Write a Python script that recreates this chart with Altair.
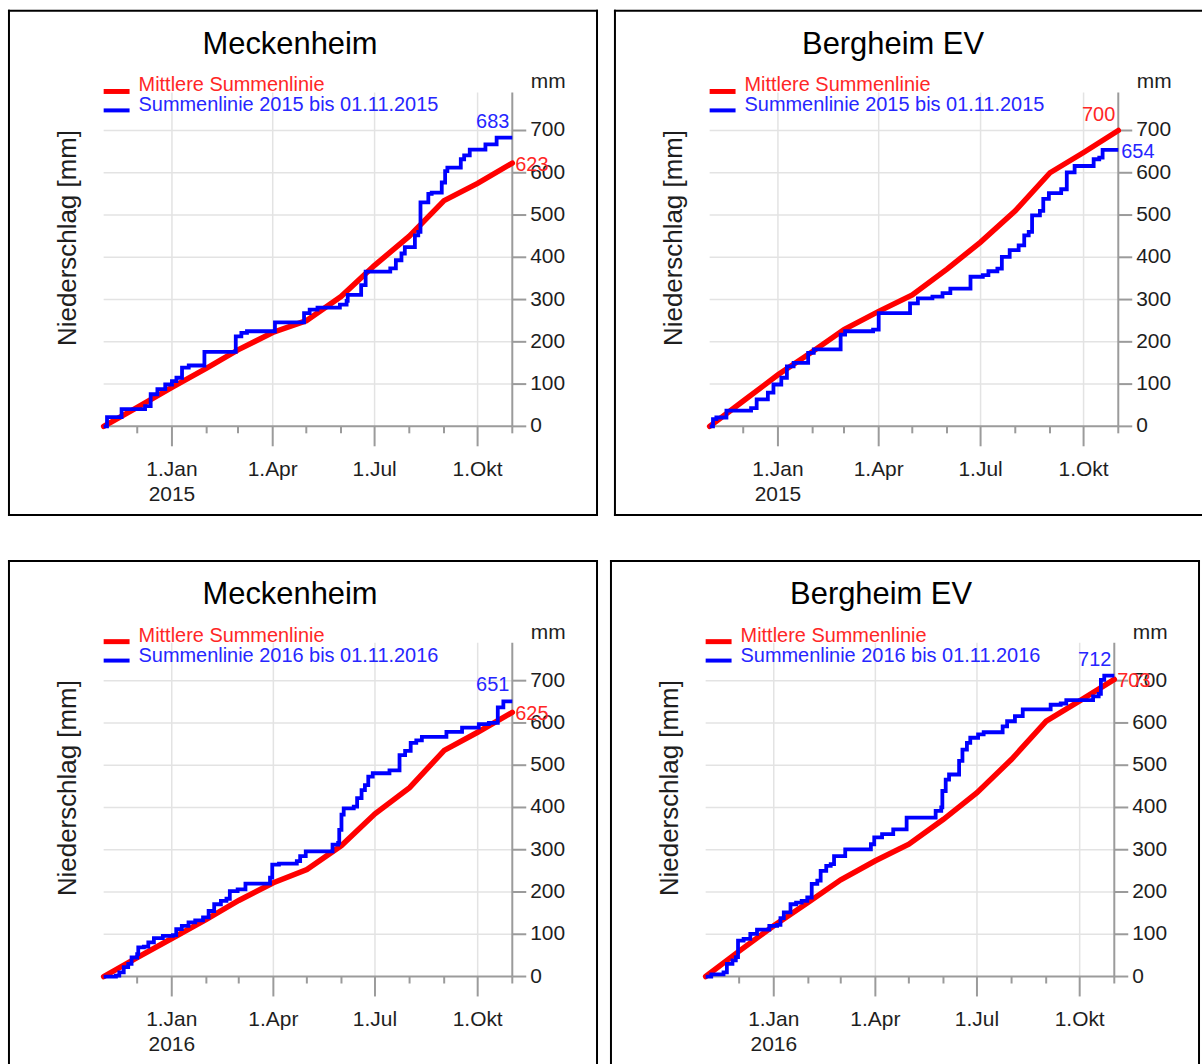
import altair as alt
import pandas as pd

FONT = "Liberation Sans"
RED = "#ff0000"
BLUE = "#0000ff"
RED_TXT = "#ff2626"
BLUE_TXT = "#2626ff"
AXIS_GREY = "#9b9b9b"
GRID_GREY = "#e3e3e3"
LABEL_INK = "#1e1e1e"

# ---- text ---------------------------------------------------------------
stations = ["Meckenheim", "Bergheim EV", "Meckenheim", "Bergheim EV"]
years = [2015, 2015, 2016, 2016]
legend_mean = "Mittlere Summenlinie"
y_title = "Niederschlag [mm]"
y_unit = "mm"

# ---- long-term mean running total (mm) on the 1st of each month, 1 Nov .. 1 Nov
mean_mk_2015 = [0, 45, 92, 138, 181, 222, 250, 307, 381, 450, 534, 575, 623]
mean_bgh_2015 = [0, 60, 122, 177, 229, 272, 311, 372, 436, 510, 600, 648, 700]
mean_mk_2016 = [0, 45, 90, 135, 180, 222, 253, 310, 385, 447, 535, 578, 625]
mean_bgh_2016 = [0, 60, 120, 176, 229, 274, 313, 372, 435, 514, 604, 652, 703]

# ---- running total of the year: days since 1 Nov, total (mm) from that day on
mk_2015_day = [0, 3, 16, 37, 42, 48, 55, 61, 65, 70, 76, 90, 118, 123, 128, 153, 179, 184, 191, 211,
               217, 218, 230, 234, 256, 261, 266, 269, 278, 281, 283, 290, 293, 302, 305, 307, 319, 322,
               327, 341, 351, 365]
mk_2015_mm = [0, 22, 41, 48, 76, 88, 99, 107, 115, 139, 144, 176, 213, 221, 225, 246, 268, 276, 281, 288,
              297, 311, 334, 366, 374, 393, 409, 424, 452, 460, 530, 550, 553, 577, 604, 612, 632, 641,
              655, 667, 683, 683]

bgh_2015_day = [0, 3, 6, 15, 37, 42, 52, 57, 64, 69, 75, 88, 93, 117, 121, 146, 151, 179, 186, 199,
                208, 215, 233, 244, 249, 257, 261, 268, 276, 281, 285, 288, 295, 298, 303, 314, 319, 326,
                343, 348, 351, 365]
bgh_2015_mm = [0, 17, 21, 37, 43, 64, 80, 99, 115, 142, 150, 174, 182, 217, 225, 229, 268, 291, 303, 307,
               315, 326, 354, 358, 367, 373, 401, 417, 428, 452, 460, 499, 510, 538, 552, 561, 601, 616,
               632, 636, 654, 654]

mk_2016_day = [0, 11, 14, 18, 22, 25, 30, 31, 36, 40, 45, 53, 62, 65, 70, 76, 82, 89, 94, 99, 105, 110,
               113, 120, 127, 149, 151, 157, 173, 176, 181, 205, 210, 211, 213, 215, 224, 227, 231, 234,
               237, 241, 256, 265, 270, 275, 280, 285, 307, 321, 336, 345, 353, 358, 366]
mk_2016_mm = [0, 2, 10, 22, 30, 45, 53, 69, 71, 81, 91, 96, 98, 112, 120, 128, 133, 140, 155, 171, 179, 184,
              202, 206, 220, 234, 265, 267, 273, 285, 296, 312, 316, 347, 383, 398, 402, 422, 441, 453,
              473, 481, 488, 524, 534, 553, 559, 567, 579, 589, 597, 600, 637, 651, 651]

bgh_2016_day = [0, 5, 16, 19, 24, 27, 29, 34, 40, 46, 57, 64, 67, 70, 76, 81, 86, 91, 95, 100, 103, 108,
                112, 115, 125, 148, 151, 158, 168, 180, 206, 211, 212, 215, 218, 227, 230, 234, 237, 244,
                249, 266, 270, 277, 284, 309, 318, 323, 347, 352, 354, 357, 366]
bgh_2016_mm = [0, 5, 10, 30, 38, 46, 85, 89, 101, 111, 120, 122, 138, 152, 171, 175, 179, 187, 219, 227,
               250, 262, 266, 285, 301, 313, 329, 337, 348, 376, 392, 400, 439, 466, 478, 510, 537, 553,
               565, 573, 578, 592, 604, 616, 632, 643, 646, 654, 663, 669, 702, 712, 712]

# ---- axes ---------------------------------------------------------------
y_ticks = [0, 100, 200, 300, 400, 500, 600, 700]
y_top = 790
major_month_labels = {1: "1.Jan", 4: "1.Apr", 7: "1.Jul", 10: "1.Okt"}

# pixel frame of the plotting area inside each boxed panel
X_PX = [96, 506]
Y_PX = [418, 83]


def iso(ts):
    return ts.strftime("%Y-%m-%d")


def dt(ts):
    return alt.DateTime(year=ts.year, month=ts.month, date=ts.day, utc=True)


def text_layer(text, x, y, size, color="black", align="left", angle=0):
    return alt.Chart(pd.DataFrame({"t": [text]})).mark_text(
        x=x, y=y, fontSize=size, font=FONT, color=color, align=align,
        baseline="alphabetic", angle=angle,
    ).encode(text="t:N")


def rule_layer(color, width, **enc):
    return alt.Chart(pd.DataFrame({"k": [0]})).mark_rule(
        color=color, strokeWidth=width
    ).encode(**enc)


def panel_chart(station, year, mean_mm, run_day, run_mm, mean_above, title_x, width, height, edges):
    start = pd.Timestamp(year - 1, 11, 1)
    months = [start + pd.DateOffset(months=i) for i in range(13)]
    mean_df = pd.DataFrame({"date": [iso(m) for m in months], "mm": mean_mm})
    run_df = pd.DataFrame({
        "date": [iso(start + pd.Timedelta(days=d)) for d in run_day],
        "mm": run_mm,
    })

    xs = alt.Scale(type="utc", domain=[dt(months[0]), dt(months[-1])], range=X_PX)
    ys = alt.Scale(domain=[0, y_top], range=Y_PX, nice=False, zero=False)

    def X(field):
        return alt.X(field, scale=xs, axis=None)

    def Y(field):
        return alt.Y(field, scale=ys, axis=None)

    # grid lines
    hgrid_df = pd.DataFrame({"mm": y_ticks[1:], "x0": iso(months[0]), "x1": iso(months[-1])})
    hgrid = alt.Chart(hgrid_df).mark_rule(color=GRID_GREY, strokeWidth=1.5).encode(
        x=X("x0:T"), x2="x1:T", y=Y("mm:Q"))
    major_dates = [m for m in months[1:] if m.month in major_month_labels]
    minor_dates = [m for m in months[1:] if m.month not in major_month_labels]
    vgrid_df = pd.DataFrame({"date": [iso(m) for m in major_dates], "lo": 0, "hi": y_top})
    vgrid = alt.Chart(vgrid_df).mark_rule(color=GRID_GREY, strokeWidth=1.5).encode(
        x=X("date:T"), y=Y("lo:Q"), y2="hi:Q")

    # axis lines, ticks and tick labels
    x_domain = alt.Chart(pd.DataFrame({"x0": [iso(months[0])], "x1": [iso(months[-1])], "mm": [0]})
                         ).mark_rule(color=AXIS_GREY, strokeWidth=2).encode(
        x=X("x0:T"), x2="x1:T", y=Y("mm:Q"))
    y_domain = alt.Chart(pd.DataFrame({"date": [iso(months[-1])], "lo": [0], "hi": [y_top]})
                         ).mark_rule(color=AXIS_GREY, strokeWidth=2).encode(
        x=X("date:T"), y=Y("lo:Q"), y2="hi:Q")
    major_ticks = alt.Chart(pd.DataFrame({"date": [iso(m) for m in major_dates]})).mark_rule(
        color=AXIS_GREY, strokeWidth=2).encode(
        x=X("date:T"), y=alt.value(Y_PX[0]), y2=alt.value(Y_PX[0] + 20))
    minor_ticks = alt.Chart(pd.DataFrame({"date": [iso(m) for m in minor_dates]})).mark_rule(
        color=AXIS_GREY, strokeWidth=2).encode(
        x=X("date:T"), y=alt.value(Y_PX[0]), y2=alt.value(Y_PX[0] + 7))
    y_tick_marks = alt.Chart(pd.DataFrame({"mm": y_ticks})).mark_rule(
        color=AXIS_GREY, strokeWidth=2).encode(
        y=Y("mm:Q"), x=alt.value(X_PX[1]), x2=alt.value(X_PX[1] + 14))
    y_tick_text = alt.Chart(pd.DataFrame({"mm": y_ticks, "t": [str(v) for v in y_ticks]})).mark_text(
        font=FONT, fontSize=21, color=LABEL_INK, align="left", baseline="middle",
        x=X_PX[1] + 18).encode(y=Y("mm:Q"), text="t:N")
    x_tick_text = alt.Chart(pd.DataFrame({
        "date": [iso(m) for m in major_dates],
        "t": [major_month_labels[m.month] for m in major_dates],
    })).mark_text(font=FONT, fontSize=21, color=LABEL_INK, align="center",
                  baseline="alphabetic", y=468).encode(x=X("date:T"), text="t:N")
    year_text = alt.Chart(pd.DataFrame({
        "date": [iso(m) for m in major_dates if m.month == 1],
        "t": [str(year)],
    })).mark_text(font=FONT, fontSize=21, color=LABEL_INK, align="center",
                  baseline="alphabetic", y=493).encode(x=X("date:T"), text="t:N")

    # the two running totals
    mean_line = alt.Chart(mean_df).mark_line(color=RED, strokeWidth=5.5, strokeCap="round").encode(
        x=X("date:T"), y=Y("mm:Q"))
    run_line = alt.Chart(run_df).mark_line(
        color=BLUE, strokeWidth=3.8, interpolate="step-after").encode(
        x=X("date:T"), y=Y("mm:Q"))

    def end_text(value, color, above):
        df = pd.DataFrame({"date": [iso(months[-1])], "mm": [value], "t": [str(value)]})
        if above:
            style = dict(align="right", dx=-3, dy=-10)
        else:
            style = dict(align="left", dx=3, dy=8)
        return alt.Chart(df).mark_text(
            color=color, font=FONT, fontSize=20, baseline="alphabetic", **style
        ).encode(x=X("date:T"), y=Y("mm:Q"), text="t:N")

    layers = []
    if "t" in edges:
        layers.append(rule_layer("black", 2, x=alt.value(0), x2=alt.value(width), y=alt.value(1)))
    if "b" in edges:
        layers.append(rule_layer("black", 2, x=alt.value(0), x2=alt.value(width), y=alt.value(height - 1)))
    if "l" in edges:
        layers.append(rule_layer("black", 2, x=alt.value(1), y=alt.value(0), y2=alt.value(height)))
    if "r" in edges:
        layers.append(rule_layer("black", 2, x=alt.value(width - 1), y=alt.value(0), y2=alt.value(height)))

    layers += [
        hgrid, vgrid, x_domain, y_domain, major_ticks, minor_ticks, y_tick_marks,
        y_tick_text, x_tick_text, year_text,
        mean_line, run_line,
        end_text(mean_mm[-1], RED_TXT, mean_above),
        end_text(run_mm[-1], BLUE_TXT, not mean_above),
        text_layer(station, title_x, 44, 31, align="center"),
        rule_layer(RED, 5, x=alt.value(96), x2=alt.value(122), y=alt.value(82)),
        rule_layer(BLUE, 4, x=alt.value(96), x2=alt.value(122), y=alt.value(101)),
        text_layer(legend_mean, 131, 82, 20, color=RED_TXT),
        text_layer(f"Summenlinie {year} bis 01.11.{year}", 131, 102, 20, color=BLUE_TXT),
        text_layer(y_unit, 542, 79, 21, color=LABEL_INK, align="center"),
        text_layer(y_title, 68, 229, 26, color=LABEL_INK, align="center", angle=270),
    ]
    return alt.layer(*layers).properties(width=width, height=height)


p_tl = panel_chart(stations[0], years[0], mean_mk_2015, mk_2015_day, mk_2015_mm,
                   False, 283, 592, 508, "tblr")
p_tr = panel_chart(stations[1], years[1], mean_bgh_2015, bgh_2015_day, bgh_2015_mm,
                   True, 280, 590, 508, "tbl")
p_bl = panel_chart(stations[2], years[2], mean_mk_2016, mk_2016_day, mk_2016_mm,
                   False, 283, 592, 507, "tlr")
p_br = panel_chart(stations[3], years[3], mean_bgh_2016, bgh_2016_day, bgh_2016_mm,
                   False, 272, 592, 507, "tlr")

chart = alt.vconcat(
    alt.hconcat(p_tl, p_tr, spacing=14),
    alt.hconcat(p_bl, p_br, spacing=10),
    spacing=42,
).properties(
    padding={"left": 7, "top": 7, "right": 0, "bottom": 0},
    background="white",
).configure(font=FONT).configure_view(stroke=None)

chart.save("out.html", embed_options={"renderer": "svg", "actions": False})
